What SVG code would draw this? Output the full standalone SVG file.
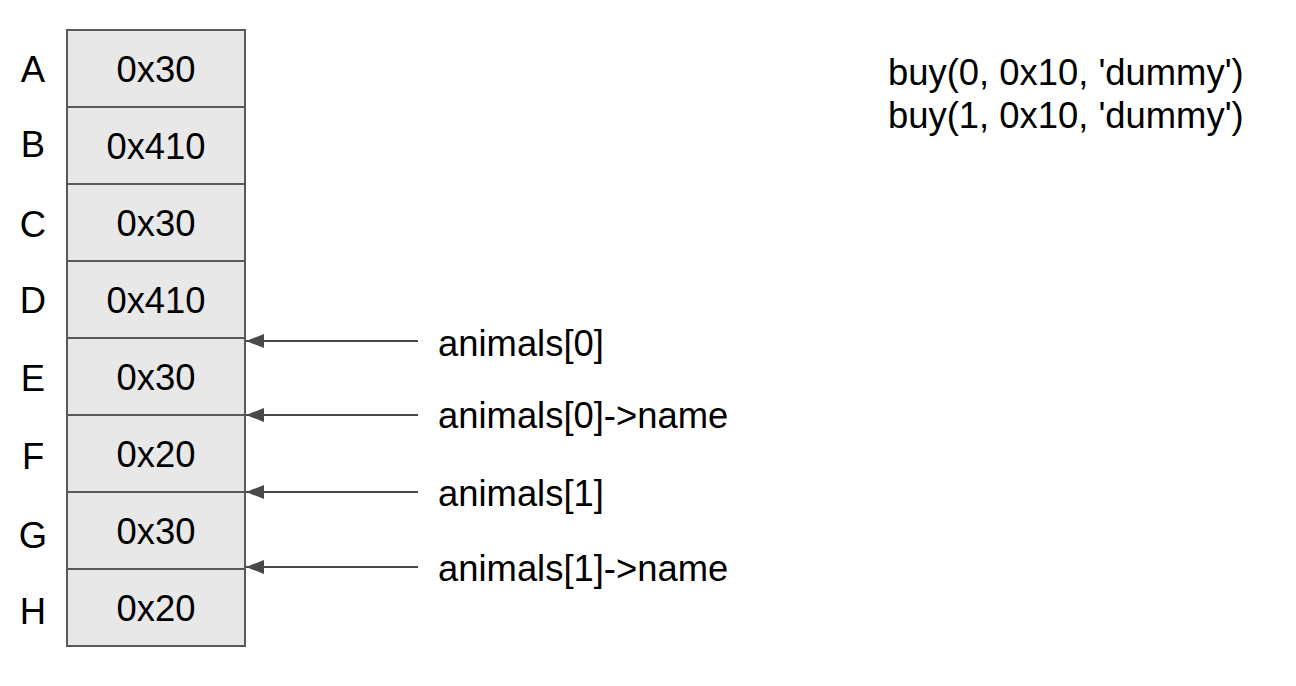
<svg xmlns="http://www.w3.org/2000/svg" width="1296" height="686" viewBox="0 0 1296 686">
<style>
.cell{fill:#e8e8e8;stroke:#595959;stroke-width:2}
text{font-family:"Liberation Sans",Arial,sans-serif;font-size:36.4px;fill:#000}
.c{text-anchor:middle}
.conn{stroke:#494949;stroke-width:2;fill:none;marker-end:url(#ah)}
</style>
<defs>
<marker id="ah" viewBox="0 0 18 14" refX="18" refY="7" markerWidth="18" markerHeight="14" markerUnits="userSpaceOnUse" orient="auto" preserveAspectRatio="none">
<path d="M0,0 L18,7 L0,14 z" fill="#494949"/>
</marker>
</defs>
<rect width="1296" height="686" fill="#fff"/>
<g id="A"><rect class="cell" x="67" y="30" width="178" height="77"/><text class="c" x="156" y="82">0x30</text><text class="c" x="33" y="82">A</text></g>
<g id="B"><rect class="cell" x="67" y="107" width="178" height="77"/><text class="c" x="156" y="159">0x410</text><text class="c" x="33" y="157">B</text></g>
<g id="C"><rect class="cell" x="67" y="184" width="178" height="77"/><text class="c" x="156" y="236">0x30</text><text class="c" x="33" y="237">C</text></g>
<g id="D"><rect class="cell" x="67" y="261" width="178" height="77"/><text class="c" x="156" y="313">0x410</text><text class="c" x="33" y="313">D</text></g>
<g id="E"><rect class="cell" x="67" y="338" width="178" height="77"/><text class="c" x="156" y="390">0x30</text><text class="c" x="33" y="391">E</text></g>
<g id="F"><rect class="cell" x="67" y="415" width="178" height="77"/><text class="c" x="156" y="467">0x20</text><text class="c" x="33" y="469">F</text></g>
<g id="G"><rect class="cell" x="67" y="492" width="178" height="77"/><text class="c" x="156" y="544">0x30</text><text class="c" x="33" y="548">G</text></g>
<g id="H"><rect class="cell" x="67" y="569" width="178" height="77"/><text class="c" x="156" y="621">0x20</text><text class="c" x="33" y="624">H</text></g>
<g id="connectors">
<line class="conn" x1="418" y1="341" x2="246" y2="341"/>
<line class="conn" x1="418" y1="415" x2="246" y2="415"/>
<line class="conn" x1="418" y1="492" x2="246" y2="492"/>
<line class="conn" x1="418" y1="567" x2="246" y2="567"/>
</g>
<g id="labels">
<text x="438" y="356">animals[0]</text>
<text x="438" y="428">animals[0]-&gt;name</text>
<text x="438" y="506">animals[1]</text>
<text x="438" y="581">animals[1]-&gt;name</text>
</g>
<g id="code">
<text x="888" y="85">buy(0, 0x10, 'dummy')</text>
<text x="888" y="128">buy(1, 0x10, 'dummy')</text>
</g>
</svg>
